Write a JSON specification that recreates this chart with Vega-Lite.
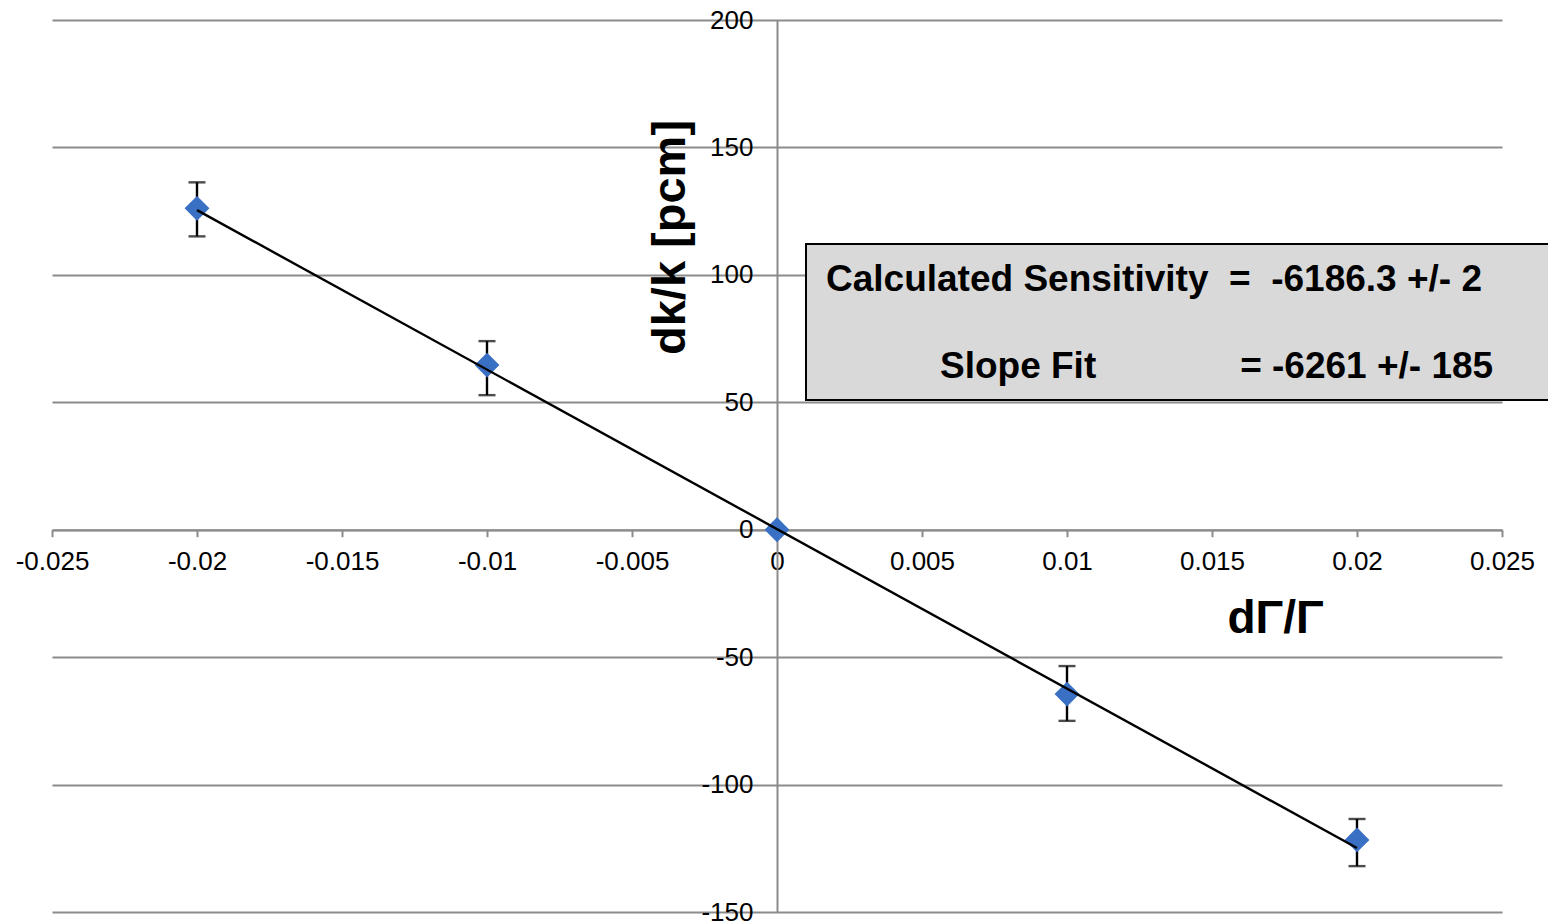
{
  "$schema": "https://vega.github.io/schema/vega-lite/v6.json",
  "width": 1450,
  "height": 892,
  "autosize": {"type": "none"},
  "padding": {"left": 52, "top": 20, "right": 46, "bottom": 11},
  "background": "white",
  "config": {"view": {"stroke": null}, "font": "Liberation Sans"},
  "datasets": {
    "pts": [
      {"dG": -0.02, "dk": 126.1, "lo": 115.1, "hi": 136.3},
      {"dG": -0.01, "dk": 64.6, "lo": 52.8, "hi": 74.0},
      {"dG": 0.0, "dk": 0.0, "lo": 0.0, "hi": 0.0},
      {"dG": 0.01, "dk": -64.5, "lo": -75.0, "hi": -53.5},
      {"dG": 0.02, "dk": -121.7, "lo": -132.0, "hi": -113.5}
    ],
    "err": [
      {"dG": -0.02, "lo": 115.1, "hi": 136.3},
      {"dG": -0.01, "lo": 52.8, "hi": 74.0},
      {"dG": 0.01, "lo": -75.0, "hi": -53.5},
      {"dG": 0.02, "lo": -132.0, "hi": -113.5}
    ],
    "fit": [
      {"dG": -0.02, "dk": 125.4},
      {"dG": 0.02, "dk": -124.9}
    ]
  },
  "layer": [
    {
      "data": {"name": "err"},
      "mark": {"type": "rule", "color": "black", "strokeWidth": 2.4},
      "encoding": {
        "x": {
          "field": "dG", "type": "quantitative",
          "scale": {"domain": [-0.025, 0.025], "nice": false, "zero": false},
          "axis": {
            "orient": "bottom", "offset": -382.3,
            "values": [-0.025, -0.02, -0.015, -0.01, -0.005, 0, 0.005, 0.01, 0.015, 0.02, 0.025],
            "labelExpr": "replace(format(datum.value, '~g'), '\u2212', '-')",
            "labelFontSize": 26, "labelColor": "black", "labelFont": "Liberation Sans",
            "labelPadding": 12, "labelFlush": false, "labelOverlap": false,
            "tickSize": 7, "tickColor": "#8c8c8c", "tickWidth": 2,
            "domainColor": "#8c8c8c", "domainWidth": 2, "grid": false,
            "title": "dΓ/Γ", "titleFontSize": 46, "titleFontWeight": "bold", "titleColor": "black",
            "titleFont": "Liberation Sans",
            "titleX": 1223, "titleY": 89, "titleAlign": "center", "titleBaseline": "middle"
          }
        },
        "y": {
          "field": "lo", "type": "quantitative",
          "scale": {"domain": [-150, 200], "nice": false, "zero": false},
          "axis": {
            "orient": "left", "offset": -725,
            "values": [-150, -100, -50, 0, 50, 100, 150, 200],
            "labelExpr": "replace(format(datum.value, 'd'), '\u2212', '-')",
            "labelFontSize": 26, "labelColor": "black", "labelFont": "Liberation Sans",
            "labelPadding": 24, "labelOverlap": false, "labelFlush": false,
            "ticks": false,
            "domainColor": "#8c8c8c", "domainWidth": 2,
            "grid": true, "gridColor": "#8c8c8c", "gridWidth": 2,
            "title": "dk/k [pcm]", "titleFontSize": 47, "titleFontWeight": "bold", "titleColor": "black",
            "titleFont": "Liberation Sans",
            "titleX": -107, "titleY": 217, "titleAngle": 270, "titleAlign": "center", "titleBaseline": "middle"
          }
        },
        "y2": {"field": "hi"}
      }
    },
    {
      "data": {"name": "err"},
      "mark": {"type": "tick", "orient": "horizontal", "color": "black", "size": 17, "thickness": 2.4},
      "encoding": {
        "x": {"field": "dG", "type": "quantitative"},
        "y": {"field": "lo", "type": "quantitative"}
      }
    },
    {
      "data": {"name": "err"},
      "mark": {"type": "tick", "orient": "horizontal", "color": "black", "size": 17, "thickness": 2.4},
      "encoding": {
        "x": {"field": "dG", "type": "quantitative"},
        "y": {"field": "hi", "type": "quantitative"}
      }
    },
    {
      "data": {"name": "pts"},
      "mark": {"type": "point", "shape": "diamond", "filled": true, "color": "#3a70c4", "size": 620, "opacity": 1},
      "encoding": {
        "x": {"field": "dG", "type": "quantitative"},
        "y": {"field": "dk", "type": "quantitative"}
      }
    },
    {
      "data": {"name": "fit"},
      "mark": {"type": "line", "color": "black", "strokeWidth": 2.4},
      "encoding": {
        "x": {"field": "dG", "type": "quantitative"},
        "y": {"field": "dk", "type": "quantitative"}
      }
    },
    {
      "data": {"values": [{}]},
      "mark": {"type": "rect", "fill": "#d9d9d9", "stroke": "black", "strokeWidth": 2, "clip": false},
      "encoding": {
        "x": {"datum": 0.001, "type": "quantitative"},
        "x2": {"datum": 0.0275},
        "y": {"datum": 112.1, "type": "quantitative"},
        "y2": {"datum": 50.9}
      }
    },
    {
      "data": {"values": [{}]},
      "mark": {"type": "text", "text": "Calculated Sensitivity\u00a0\u00a0=\u00a0\u00a0-6186.3 +/- 2", "font": "Liberation Sans", "fontWeight": "bold", "fontSize": 37, "align": "left", "baseline": "alphabetic", "color": "black"},
      "encoding": {
        "x": {"datum": 0.00169, "type": "quantitative"},
        "y": {"datum": 93.6, "type": "quantitative"}
      }
    },
    {
      "data": {"values": [{}]},
      "mark": {"type": "text", "text": "Slope Fit", "font": "Liberation Sans", "fontWeight": "bold", "fontSize": 37, "align": "left", "baseline": "alphabetic", "color": "black"},
      "encoding": {
        "x": {"datum": 0.00562, "type": "quantitative"},
        "y": {"datum": 59.4, "type": "quantitative"}
      }
    },
    {
      "data": {"values": [{}]},
      "mark": {"type": "text", "text": "= -6261 +/- 185", "font": "Liberation Sans", "fontWeight": "bold", "fontSize": 37, "align": "left", "baseline": "alphabetic", "color": "black"},
      "encoding": {
        "x": {"datum": 0.01597, "type": "quantitative"},
        "y": {"datum": 59.4, "type": "quantitative"}
      }
    }
  ]
}
